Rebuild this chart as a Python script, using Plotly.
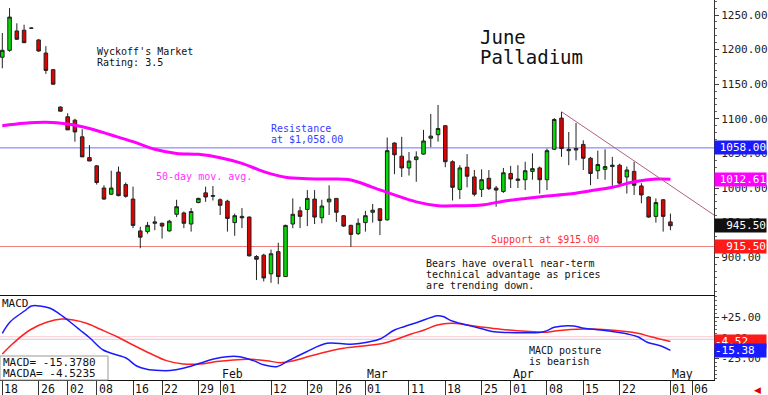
import plotly.graph_objects as go

# ---------------- data ----------------
OPEN = [1189, 1199, 1227, 1228, 1231, 1214, 1195, 1171, 1117, 1103,
        1098, 1074, 1044, 1032, 1000, 991, 1023, 1005, 984, 938,
        937, 949, 949, 938, 962, 964, 948, 979, 993, 988,
        983, 981, 950, 959, 958, 901, 903, 876, 908, 872,
        948, 967, 969, 984, 957, 980, 985, 960, 946, 934,
        950, 965, 970, 954, 1065, 1046, 1029, 1041, 1049, 1072,
        1077, 1090, 1038, 998, 1030, 1016, 998, 1014, 1000, 995,
        1021, 1011, 1012, 1024, 1029, 1012, 1056, 1101, 1054, 1055,
        1063, 1043, 1025, 1027, 1031, 1033, 1016, 1024, 1003, 987,
        959, 983, 951]
HIGH = [1224, 1260, 1238, 1236, 1232, 1215, 1205, 1172, 1118, 1108,
        1100, 1085, 1062, 1033, 1004, 1025, 1031, 1008, 1002, 944,
        951, 959, 950, 954, 983, 966, 971, 986, 1002, 1003,
        985, 983, 963, 971, 959, 903, 905, 911, 921, 947,
        985, 973, 997, 997, 983, 1004, 985, 961, 947, 956,
        967, 977, 971, 1073, 1066, 1074, 1052, 1053, 1084, 1107,
        1120, 1091, 1040, 1033, 1049, 1026, 1027, 1026, 1003, 1029,
        1032, 1033, 1038, 1050, 1031, 1057, 1101, 1110, 1081, 1094,
        1069, 1045, 1054, 1056, 1045, 1035, 1031, 1038, 1007, 988,
        985, 984, 963]
LOW = [1173, 1197, 1214, 1210, 1230, 1197, 1165, 1150, 1111, 1084,
       1067, 1045, 1039, 1005, 983, 990, 988, 986, 942, 913,
       934, 939, 927, 937, 958, 942, 937, 978, 980, 982,
       961, 937, 931, 942, 901, 867, 865, 863, 861, 872,
       942, 942, 945, 948, 949, 961, 951, 944, 915, 932,
       937, 950, 932, 953, 1020, 1016, 1018, 1009, 1048, 1059,
       1067, 1030, 982, 984, 1001, 988, 987, 997, 973, 993,
       1000, 1000, 997, 1012, 992, 997, 1055, 1045, 1033, 1040,
       1026, 1004, 1013, 1012, 1002, 1004, 992, 990, 978, 957,
       950, 937, 939]
CLOSE = [1199, 1247, 1215, 1210, 1231, 1198, 1170, 1150, 1111, 1084,
         1081, 1045, 1039, 1008, 984, 1000, 989, 988, 946, 929,
         946, 951, 945, 952, 973, 949, 966, 985, 987, 989,
         975, 956, 960, 957, 902, 897, 870, 905, 872, 946,
         962, 959, 985, 958, 974, 984, 965, 945, 933, 949,
         960, 968, 953, 1054, 1048, 1029, 1039, 1045, 1068, 1075,
         1086, 1038, 1001, 1029, 1017, 991, 1012, 999, 997, 1022,
         1013, 1013, 1025, 1028, 1012, 1054, 1099, 1057, 1056, 1057,
         1043, 1021, 1034, 1031, 1033, 1007, 1026, 1004, 990, 958,
         979, 959, 945.5]

MA50_X = [0, 3, 6, 9, 12, 15, 18, 21, 24, 27, 30, 33, 36, 39, 42, 45,
          48, 51, 54, 57, 60, 63, 66, 69, 72, 75, 78, 81, 84, 87, 90, 92]
MA50_Y = [1090, 1093.5, 1095, 1092.5, 1086, 1076.6, 1067, 1056, 1050,
          1048.7, 1043.8, 1035.7, 1023.6, 1015.5, 1013.4, 1013, 1011.6,
          1001, 990, 980, 974.5, 974.5, 975.4, 981, 985, 988.4, 991.3,
          996, 1001, 1009, 1013, 1012.61]

MACD_X = [0, 1.1, 3.1, 4, 5.2, 6.6, 7.9, 9.3, 10.7, 12.1, 13.9, 15.8,
          17.1, 18.5, 19.9, 21.7, 23.1, 24.9, 27.2, 29.1, 30.9, 32.7,
          34.6, 36, 37.8, 39.6, 41.9, 44.7, 47.9, 50.6, 52, 54, 55.3,
          57.2, 59.9, 60.8, 61.8, 64, 66.3, 67.7, 70.9, 74.2, 75, 76,
          78.7, 80.1, 82.4, 84.7, 86.1, 87.5, 88.8, 90.7, 92]
MACD_Y = [5.5, 19.6, 33, 38.8, 38.8, 36, 29, 19.6, 9.5, -0.6, -14.9,
          -21, -25, -34.4, -38.4, -40, -40, -37.2, -31, -25.9, -23, -23,
          -27.9, -33, -35.2, -27, -17, -6.7, -7.9, -4.7, -1.5, 9.5, 13.5,
          18.9, 27, 25.7, 20.9, 15.6, 10.4, 7.4, 6.2, 6.7, 8.7, 12.8,
          14.4, 11.6, 9.5, 6.7, 4.6, 1.3, -5.5, -10, -15.378]

SIGNAL_X = [0, 1.5, 3.8, 6.1, 8.2, 9.8, 11.6, 13.5, 15.8, 18, 20.3,
            22.6, 24.9, 27.2, 29.5, 31.8, 34.1, 36.4, 38.3, 40.1, 42.4,
            44.7, 47, 49.7, 52.5, 54.4, 56.3, 58.1, 59.9, 61.8, 64,
            66.3, 68.6, 70.9, 73.2, 75, 76.4, 80.1, 83.8, 87.5, 89.3, 92]
SIGNAL_Y = [-19.8, -6.7, 9.5, 18.9, 22.9, 21.7, 17.7, 10.4, 1.3, -8.8,
            -18.9, -27.9, -32, -32, -29, -27, -26.2, -27.9, -30.4, -27.9,
            -22.2, -17, -12.8, -10, -6.7, -1.5, 4.6, 9.5, 15.6, 17.7, 15.6,
            12.8, 10.4, 8.7, 7.4, 6.7, 8.7, 10.7, 9.5, 5.5, 1.3, -4.5235]

TICK_IDX = [0, 5, 9, 13, 18, 22, 27, 30, 37, 42, 46, 50, 56, 61, 66, 70,
            75, 80, 85, 92, 95]
TICK_TEXT = ["18", "26", "02", "08", "16", "22", "29", "01", "12", "20",
             "26", "01", "11", "18", "25", "01", "08", "15", "22", "01", "06"]
MONTH_IDX = [30, 50, 70, 92]
MONTH_TEXT = ["Feb", "Mar", "Apr", "May"]

TREND_X = [77, 98]
TREND_Y = [1110.3, 961.0]
RESISTANCE = 1058.00
SUPPORT = 915.50
MA_LAST = 1012.61
LAST = 945.50
MACD_LAST = -15.3780
MACDA_LAST = -4.5235
MACD_REF = [1.3, -1.8]
PRICE_TICKS = [900, 950, 1000, 1050, 1100, 1150, 1200, 1250]
MACD_TICKS = [-25, 0, 25]
MACD_TICK_TEXT = ["-25.00", "0.00", "+25.00"]

# ---------------- layout helpers ----------------
W, H = 768, 395
PW, PH = 714, 380           # plot area (left margin 0, top margin 0)
MONO = "DejaVu Sans Mono"
XR = [-0.317, 98.0]


def px(x):
    return x / PW


def py(y):
    return (PH - y) / PH


X = list(range(len(OPEN)))

fig = go.Figure()

fig.add_trace(go.Candlestick(
    x=X, open=OPEN, high=HIGH, low=LOW, close=CLOSE,
    increasing=dict(fillcolor="#00dd00", line=dict(color="#222222", width=1)),
    decreasing=dict(fillcolor="#e00000", line=dict(color="#222222", width=1)),
    whiskerwidth=0, showlegend=False, hoverinfo="skip",
    xaxis="x", yaxis="y"))

fig.add_trace(go.Scatter(
    x=MA50_X, y=MA50_Y, mode="lines", line=dict(color="#ff00ff", width=3, shape="spline"),
    showlegend=False, hoverinfo="skip", xaxis="x", yaxis="y"))

fig.add_trace(go.Scatter(
    x=TREND_X, y=TREND_Y, mode="lines", line=dict(color="#b0607e", width=1),
    showlegend=False, hoverinfo="skip", xaxis="x", yaxis="y", cliponaxis=True))

fig.add_trace(go.Scatter(
    x=SIGNAL_X, y=SIGNAL_Y, mode="lines", line=dict(color="#ff2020", width=1.5, shape="spline"),
    showlegend=False, hoverinfo="skip", xaxis="x2", yaxis="y2"))
fig.add_trace(go.Scatter(
    x=MACD_X, y=MACD_Y, mode="lines", line=dict(color="#1a1aff", width=1.5, shape="spline"),
    showlegend=False, hoverinfo="skip", xaxis="x2", yaxis="y2"))

shapes = [
    dict(type="line", xref="paper", yref="y", x0=0, x1=1, y0=RESISTANCE, y1=RESISTANCE,
         line=dict(color="#7070ff", width=1), layer="below"),
    dict(type="line", xref="paper", yref="y", x0=0, x1=1, y0=SUPPORT, y1=SUPPORT,
         line=dict(color="#f08080", width=1), layer="below"),
    dict(type="line", xref="paper", yref="y2", x0=0, x1=1, y0=MACD_REF[0], y1=MACD_REF[0],
         line=dict(color="#ffc8c8", width=1), layer="below"),
    dict(type="line", xref="paper", yref="y2", x0=0, x1=1, y0=MACD_REF[1], y1=MACD_REF[1],
         line=dict(color="#c8c8ff", width=1), layer="below"),
    dict(type="rect", xref="paper", yref="paper", x0=px(0), x1=px(108), y0=py(380), y1=py(356),
         line=dict(color="#999999", width=1), fillcolor="white", layer="above"),
]

ann = []


def text(x, y, t, color="#111111", size=10, xanchor="left"):
    ann.append(dict(x=px(x), y=py(y), xref="paper", yref="paper", text=t, showarrow=False,
                    xanchor=xanchor, yanchor="middle", font=dict(family=MONO, size=size, color=color)))


text(95, 52, "Wyckoff's Market")
text(95, 63, "Rating: 3.5")
text(478, 37, "June", size=19)
text(478, 57, "Palladium", size=19)
text(269, 128, "Resistance", color="#3a3aff")
text(269, 139, "at $1,058.00", color="#3a3aff")
text(154, 176, "50-day mov. avg.", color="#ff33ff")
text(489, 239, "Support at $915.00", color="#ff3030")
text(424, 263, "Bears have overall near-term")
text(424, 274, "technical advantage as prices")
text(424, 285, "are trending down.")
text(527, 350, "MACD posture")
text(527, 361, "is bearish")
text(0, 303, "MACD", size=11)
text(1, 362, "MACD= %.4f" % MACD_LAST, size=11)
text(1, 373, "MACDA= %.4f" % MACDA_LAST, size=11)

for i, m in zip(MONTH_IDX, MONTH_TEXT):
    ann.append(dict(x=i, y=py(374), xref="x2", yref="paper", text=m, showarrow=False,
                    xanchor="left", yanchor="middle", xshift=0,
                    font=dict(family=MONO, size=11.5, color="#111111")))
for i, t in zip(TICK_IDX, TICK_TEXT):
    ann.append(dict(x=i, y=0, xref="x2", yref="paper", text=t, showarrow=False,
                    xanchor="left", yanchor="top", xshift=0, yshift=0,
                    font=dict(family=MONO, size=11.5, color="#111111")))


def vbox(val, yref, label, bg, align):
    ann.append(dict(x=1, y=val, xref="paper", yref=yref, text=label, showarrow=False,
                    xanchor="left", yanchor="middle", xshift=0, width=51, align=align,
                    bgcolor=bg, borderpad=0,
                    font=dict(family=MONO, size=11, color="white")))


vbox(RESISTANCE, "y", "%.2f" % RESISTANCE, "#1a1aff", "right")
vbox(MA_LAST, "y", "%.2f" % MA_LAST, "#ff00ff", "right")
vbox(LAST, "y", "%.2f" % LAST, "#111111", "right")
vbox(SUPPORT, "y", "%.2f" % SUPPORT, "#ff1a1a", "right")
vbox(MACDA_LAST, "y2", "%.2f" % MACDA_LAST, "#ff1a1a", "left")
vbox(MACD_LAST, "y2", "%.2f" % MACD_LAST, "#1a1aff", "left")

ann.append(dict(x=1, y=0, xref="paper", yref="paper", text="\u25c0", showarrow=False,
                xanchor="left", yanchor="top", xshift=38, yshift=-3,
                font=dict(family="DejaVu Sans", size=9, color="#e00000")))

axis_font = dict(family=MONO, size=11, color="#222222")

fig.update_layout(
    width=W, height=H, margin=dict(l=0, r=W - PW, t=0, b=H - PH, autoexpand=False),
    paper_bgcolor="white", plot_bgcolor="white",
    showlegend=False, shapes=shapes, annotations=ann,
    xaxis=dict(domain=[0, 1], range=XR, anchor="y", showticklabels=False, ticks="",
               showgrid=False, zeroline=False, showline=True, linecolor="#111111", linewidth=1,
               rangeslider=dict(visible=False), fixedrange=True),
    yaxis=dict(domain=[(PH - 295) / PH, 1], range=[845.4, 1271.7], side="right",
               tickvals=PRICE_TICKS, tickformat=".2f", ticks="outside", ticklen=4,
               tickcolor="#444444", minor=dict(dtick=10, tick0=0, ticks="outside", ticklen=2,
                                                tickcolor="#666666"),
               showgrid=False, zeroline=False, showline=True, linecolor="#333333",
               tickfont=axis_font),
    xaxis2=dict(domain=[0, 1], range=XR, anchor="y2", tickvals=TICK_IDX, showticklabels=False,
                ticks="outside", ticklen=15, tickcolor="#333333", showgrid=False,
                zeroline=False, showline=True, linecolor="#111111", mirror=True),
    yaxis2=dict(domain=[0, (PH - 296) / PH], range=[-51.5, 51], side="right",
                tickvals=MACD_TICKS, ticktext=MACD_TICK_TEXT, ticks="outside", ticklen=4,
                tickcolor="#444444", minor=dict(dtick=5, ticks="outside", ticklen=2,
                                                tickcolor="#666666"),
                showgrid=False, zeroline=False, showline=True, linecolor="#333333",
                tickfont=axis_font),
)

fig.write_html("out.html", config={"displayModeBar": False},
               post_script="document.body.style.margin='0';document.body.style.overflow='hidden';")
